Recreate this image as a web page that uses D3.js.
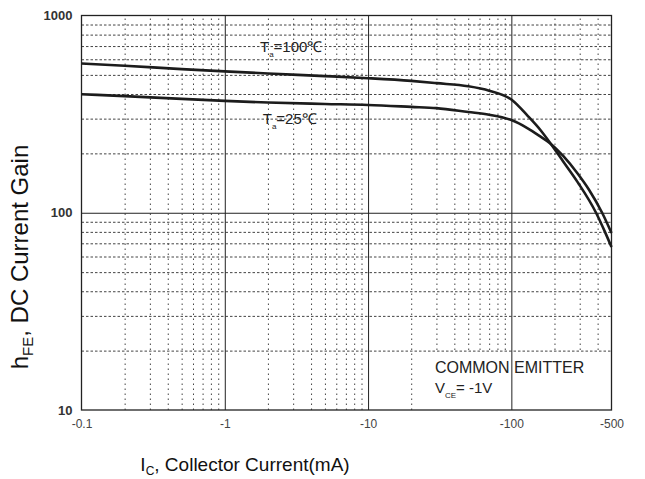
<!DOCTYPE html>
<html>
<head>
<meta charset="utf-8">
<script src="https://cdn.jsdelivr.net/npm/d3@7"></script>
<style>
  html, body { margin: 0; padding: 0; background: #fff; }
  svg { display: block; font-family: "Liberation Sans", Arial, sans-serif; }
</style>
</head>
<body>
<div id="chart"></div>
<script>
// collector current (mA, magnitude) and DC gain
const icValues = [0.1, 0.2, 0.5, 1, 2, 5, 10, 20, 30, 50, 70, 100, 130, 160, 185, 230, 290, 390, 450, 500];
const gain100 = [571, 556, 535, 521, 508, 493, 481, 466, 454, 438, 416, 375, 310, 262, 228, 182, 143, 100, 80, 67];
const icValues25 = [0.1, 0.2, 0.5, 1, 2, 5, 10, 20, 30, 50, 70, 100, 130, 160, 185, 230, 290, 350, 430, 500];
const gain25 = [399, 390, 378, 369, 362, 356, 352, 344, 339, 324, 314, 295, 268, 243, 226, 194, 158, 130, 100, 79];

const xTickValues = [0.1, 1, 10, 100, 500];
const xTickLabels = ["-0.1", "-1", "-10", "-100", "-500"];
const yTickValues = [10, 100, 1000];
const yTickLabels = ["10", "100", "1000"];

const xMajor = [1, 10, 100];
const xMinor = [0.2, 0.3, 0.4, 0.5, 0.6, 0.7, 0.8, 0.9, 2, 3, 4, 5, 6, 7, 8, 9,
                20, 30, 40, 50, 60, 70, 80, 90, 200, 300, 400];
const yMajor = [100];
const yMinor = [20, 30, 40, 50, 60, 70, 80, 90, 200, 300, 400, 500, 600, 700, 800, 900];

const largura = 645, altura = 479;
const plotLeft = 81.5, plotRight = 611.5, plotTop = 15.5, plotBottom = 410;

const svg = d3.select("#chart").append("svg")
    .attr("width", largura).attr("height", altura);

const x = d3.scaleLog().domain([0.1, 500]).range([plotLeft, plotRight]);
const y = d3.scaleLog().domain([10, 1000]).range([plotBottom, plotTop]);

const plotH = plotBottom - plotTop, plotW = plotRight - plotLeft;

// minor dotted grid
svg.append("g")
    .attr("transform", `translate(0,${plotBottom})`)
    .call(d3.axisBottom(x).tickValues(xMinor).tickSize(-plotH).tickFormat(""))
    .call(g => g.select(".domain").remove())
    .call(g => g.selectAll("line").attr("stroke", "#444").attr("stroke-dasharray", "1.5,3.5"));

svg.append("g")
    .attr("transform", `translate(${plotLeft},0)`)
    .call(d3.axisLeft(y).tickValues(yMinor).tickSize(-plotW).tickFormat(""))
    .call(g => g.select(".domain").remove())
    .call(g => g.selectAll("line").attr("stroke", "#444").attr("stroke-dasharray", "2.5,2"));

// white panel behind the test condition note
svg.append("rect")
    .attr("x", x(21.5)).attr("y", y(19.6))
    .attr("width", plotRight - x(21.5)).attr("height", plotBottom - y(19.6))
    .attr("fill", "#fff");

// solid decade lines
svg.append("g")
    .attr("transform", `translate(0,${plotBottom})`)
    .call(d3.axisBottom(x).tickValues(xMajor).tickSize(-plotH).tickFormat(""))
    .call(g => g.select(".domain").remove())
    .call(g => g.selectAll("line").attr("stroke", "#222").attr("stroke-width", 1));

svg.append("g")
    .attr("transform", `translate(${plotLeft},0)`)
    .call(d3.axisLeft(y).tickValues(yMajor).tickSize(-plotW).tickFormat(""))
    .call(g => g.select(".domain").remove())
    .call(g => g.selectAll("line").attr("stroke", "#222").attr("stroke-width", 1));

// frame
svg.append("rect")
    .attr("x", plotLeft).attr("y", plotTop)
    .attr("width", plotW).attr("height", plotH)
    .attr("fill", "none").attr("stroke", "#222").attr("stroke-width", 1.3);

// tick labels
svg.append("g")
    .attr("transform", `translate(0,${plotBottom})`)
    .call(d3.axisBottom(x).tickValues(xTickValues).tickSize(0).tickPadding(9)
        .tickFormat((d, i) => xTickLabels[i]))
    .call(g => g.select(".domain").remove())
    .call(g => g.selectAll("text").attr("fill", "#444")
        .style("font-size", "12px").style("font-family", "Liberation Sans, Arial, sans-serif"));

svg.append("g")
    .attr("transform", `translate(${plotLeft},0)`)
    .call(d3.axisLeft(y).tickValues(yTickValues).tickSize(0).tickPadding(9)
        .tickFormat((d, i) => yTickLabels[i]))
    .call(g => g.select(".domain").remove())
    .call(g => g.selectAll("text").attr("fill", "#333").attr("font-weight", "bold")
        .style("font-size", "13px").style("font-family", "Liberation Sans, Arial, sans-serif"));

// curves
const line = d3.line()
    .x(d => x(d[0]))
    .y(d => y(d[1]))
    .curve(d3.curveMonotoneX);

svg.append("path")
    .datum(icValues.map((v, i) => [v, gain100[i]]))
    .attr("d", line)
    .attr("fill", "none").attr("stroke", "#1c1c1c").attr("stroke-width", 2.6);

svg.append("path")
    .datum(icValues25.map((v, i) => [v, gain25[i]]))
    .attr("d", line)
    .attr("fill", "none").attr("stroke", "#1c1c1c").attr("stroke-width", 2.6);

// curve labels
function tempLabel(xv, yv, temp) {
    const t = svg.append("text")
        .attr("x", x(xv)).attr("y", y(yv))
        .attr("fill", "#222").style("font-size", "15px");
    t.append("tspan").text("T");
    t.append("tspan").attr("dy", 5).style("font-size", "8px").text("a");
    t.append("tspan").attr("dy", -5).text("=" + temp + "\u2103");
}
tempLabel(1.76, 650, "100");
tempLabel(1.84, 281, "25");

// test condition
svg.append("text")
    .attr("x", x(29.3)).attr("y", y(15.4))
    .attr("fill", "#222").style("font-size", "16px")
    .text("COMMON EMITTER");

const vce = svg.append("text")
    .attr("x", x(29.3)).attr("y", y(12.2))
    .attr("fill", "#222").style("font-size", "15px");
vce.append("tspan").text("V");
vce.append("tspan").attr("dy", 5).style("font-size", "8px").text("CE");
vce.append("tspan").attr("dy", -5).text("= -1V");

// axis titles
const xt = svg.append("text")
    .attr("x", 245).attr("y", 471)
    .attr("text-anchor", "middle")
    .attr("fill", "#111").style("font-size", "19px");
xt.append("tspan").text("I");
xt.append("tspan").attr("dy", 4).style("font-size", "12px").text("C");
xt.append("tspan").attr("dy", -4).text(", Collector Current(mA)");

const yt = svg.append("text")
    .attr("transform", "translate(28,257) rotate(-90)")
    .attr("text-anchor", "middle")
    .attr("fill", "#111").style("font-size", "24px");
yt.append("tspan").text("h");
yt.append("tspan").attr("dy", 5).style("font-size", "15px").text("FE");
yt.append("tspan").attr("dy", -5).text(", DC Current Gain");
</script>
</body>
</html>
